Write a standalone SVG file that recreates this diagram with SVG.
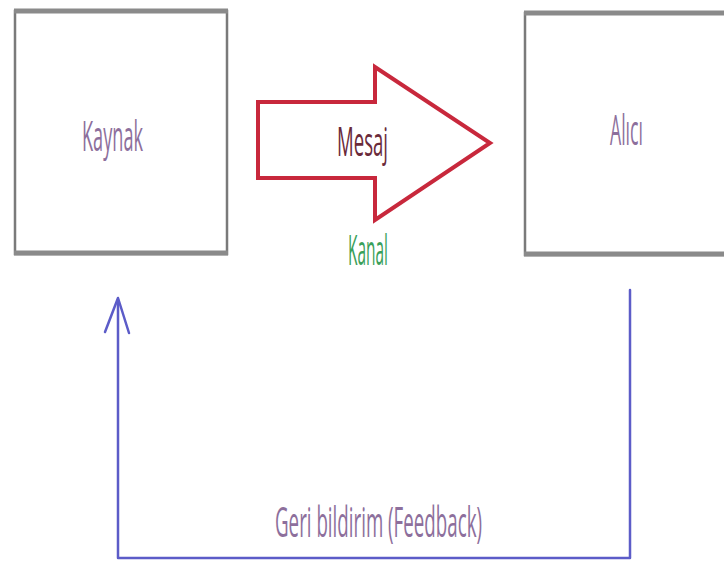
<svg xmlns="http://www.w3.org/2000/svg" width="724" height="570" viewBox="0 0 724 570">
<style>
.box{fill:#fff;stroke:#7a7a7a;stroke-width:2.5}
.edge{stroke:#8a8a8a;stroke-width:5}
.lbl{font-family:"Open Sans","Liberation Sans",sans-serif;font-size:42px;fill:#8d6f9c}
.fb{fill:none;stroke:#5c5cc8;stroke-width:2.5;stroke-linejoin:round;stroke-linecap:round}
</style>
<rect width="724" height="570" fill="#fff"/>
<g id="kaynak">
<rect class="box" x="15" y="11" width="212" height="243"/>
<line class="edge" x1="14" y1="11" x2="228" y2="11"/>
<line class="edge" x1="14" y1="253" x2="228" y2="253"/>
<text class="lbl" x="82" y="151" textLength="61" lengthAdjust="spacingAndGlyphs">Kaynak</text>
</g>
<g id="alici">
<rect class="box" x="525" y="13" width="215" height="242"/>
<line class="edge" x1="524" y1="13" x2="724" y2="13"/>
<line class="edge" x1="524" y1="254" x2="724" y2="254"/>
<text class="lbl" x="610" y="145" textLength="33" lengthAdjust="spacingAndGlyphs">Alıcı</text>
</g>
<g id="mesaj">
<polygon points="258,102 375,102 375,67 490,143 375,220 375,178 258,178" fill="#fff" stroke="#c8283c" stroke-width="4" stroke-linejoin="miter"/>
<text x="337" y="156" textLength="51" lengthAdjust="spacingAndGlyphs" font-family="Open Sans, Liberation Sans, sans-serif" font-size="40" fill="#6a2a3a">Mesaj</text>
</g>
<g id="kanal">
<text x="348" y="265" textLength="40" lengthAdjust="spacingAndGlyphs" font-family="Open Sans, Liberation Sans, sans-serif" font-size="42" fill="#3aa05a">Kanal</text>
</g>
<g id="connectors">
<polyline class="fb" points="630,290 630,558 118,558 118,300"/>
<polyline class="fb" points="105,332 118,298 129,333"/>
</g>
<g id="feedback-label">
<text class="lbl" transform="translate(275,537) scale(1,1.3)" x="0" y="0" style="font-size:32px" textLength="207" lengthAdjust="spacingAndGlyphs">Geri bildirim (Feedback)</text>
</g>
</svg>
